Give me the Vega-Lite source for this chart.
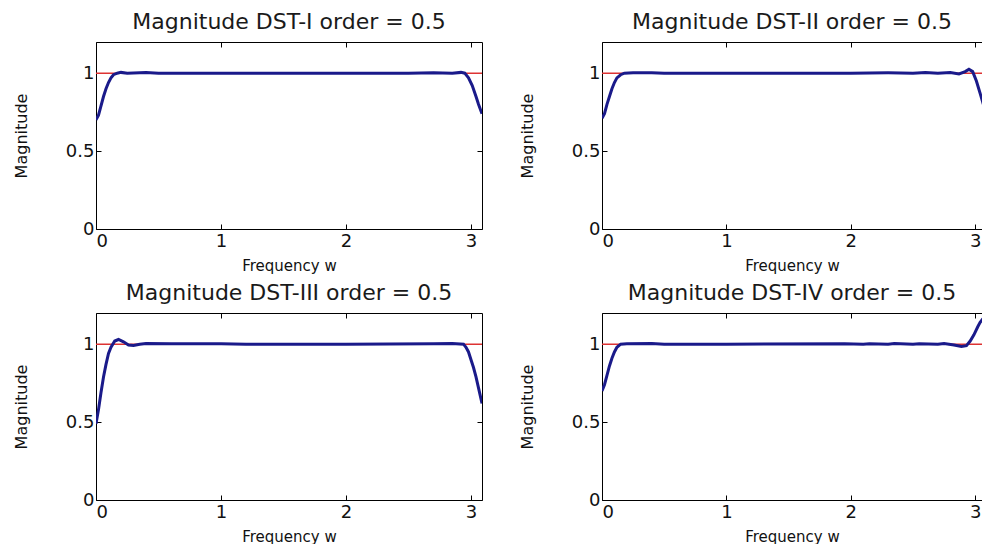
{
  "$schema": "https://vega.github.io/schema/vega-lite/v6.json",
  "background": "white",
  "padding": {"left": 12, "top": 10, "right": 0, "bottom": 0},
  "columns": 2,
  "spacing": {"row": 84, "column": 120},
  "bounds": "flush",
  "config": {
    "view": {"stroke": null},
    "title": {"font": "DejaVu Sans", "fontSize": 22, "fontWeight": "normal", "color": "#1a1a1a", "offset": 8, "anchor": "middle"},
    "axis": {
      "grid": false,
      "domainColor": "#000000",
      "domainWidth": 1,
      "tickColor": "#000000",
      "tickSize": -5,
      "tickWidth": 1,
      "labelFont": "DejaVu Sans",
      "labelFontSize": 18,
      "labelColor": "#111111",
      "labelPadding": 8,
      "titleFont": "DejaVu Sans",
      "titleFontSize": 15,
      "titleFontWeight": "normal",
      "titleColor": "#111111"
    },
    "axisBottom": {"titleY": 29, "titleBaseline": "top"},
    "axisLeft": {"titleX": -75, "titleY": 93.5, "titleBaseline": "middle", "labelPadding": 7, "titleFontSize": 16}
  },
  "datasets": {
    "d": [
      {"p": "I", "s": "ideal", "w": 0, "m": 1},
      {"p": "I", "s": "ideal", "w": 3.1416, "m": 1},
      {"p": "I", "s": "dst", "w": 0, "m": 0.70},
      {"p": "I", "s": "dst", "w": 0.02, "m": 0.73},
      {"p": "I", "s": "dst", "w": 0.04, "m": 0.79},
      {"p": "I", "s": "dst", "w": 0.06, "m": 0.85},
      {"p": "I", "s": "dst", "w": 0.08, "m": 0.90},
      {"p": "I", "s": "dst", "w": 0.10, "m": 0.94},
      {"p": "I", "s": "dst", "w": 0.12, "m": 0.97},
      {"p": "I", "s": "dst", "w": 0.14, "m": 0.99},
      {"p": "I", "s": "dst", "w": 0.17, "m": 1.0},
      {"p": "I", "s": "dst", "w": 0.2, "m": 1.005},
      {"p": "I", "s": "dst", "w": 0.25, "m": 1.0},
      {"p": "I", "s": "dst", "w": 0.4, "m": 1.004},
      {"p": "I", "s": "dst", "w": 0.5, "m": 1.0},
      {"p": "I", "s": "dst", "w": 1.0, "m": 1.0},
      {"p": "I", "s": "dst", "w": 1.5, "m": 1.0},
      {"p": "I", "s": "dst", "w": 2.0, "m": 1.0},
      {"p": "I", "s": "dst", "w": 2.5, "m": 1.0},
      {"p": "I", "s": "dst", "w": 2.7, "m": 1.003},
      {"p": "I", "s": "dst", "w": 2.85, "m": 1.0},
      {"p": "I", "s": "dst", "w": 2.92, "m": 1.005},
      {"p": "I", "s": "dst", "w": 2.95, "m": 1.0},
      {"p": "I", "s": "dst", "w": 2.98, "m": 0.97},
      {"p": "I", "s": "dst", "w": 3.01, "m": 0.92},
      {"p": "I", "s": "dst", "w": 3.04, "m": 0.85},
      {"p": "I", "s": "dst", "w": 3.06, "m": 0.80},
      {"p": "I", "s": "dst", "w": 3.088, "m": 0.74},
      {"p": "II", "s": "ideal", "w": 0, "m": 1},
      {"p": "II", "s": "ideal", "w": 3.1416, "m": 1},
      {"p": "II", "s": "dst", "w": 0, "m": 0.71},
      {"p": "II", "s": "dst", "w": 0.02, "m": 0.74},
      {"p": "II", "s": "dst", "w": 0.04, "m": 0.80},
      {"p": "II", "s": "dst", "w": 0.06, "m": 0.85},
      {"p": "II", "s": "dst", "w": 0.08, "m": 0.90},
      {"p": "II", "s": "dst", "w": 0.10, "m": 0.94},
      {"p": "II", "s": "dst", "w": 0.12, "m": 0.97},
      {"p": "II", "s": "dst", "w": 0.15, "m": 0.99},
      {"p": "II", "s": "dst", "w": 0.18, "m": 1.0},
      {"p": "II", "s": "dst", "w": 0.25, "m": 1.002},
      {"p": "II", "s": "dst", "w": 0.4, "m": 1.003},
      {"p": "II", "s": "dst", "w": 0.5, "m": 1.0},
      {"p": "II", "s": "dst", "w": 1.0, "m": 1.0},
      {"p": "II", "s": "dst", "w": 2.0, "m": 1.0},
      {"p": "II", "s": "dst", "w": 2.3, "m": 1.002},
      {"p": "II", "s": "dst", "w": 2.5, "m": 1.0},
      {"p": "II", "s": "dst", "w": 2.6, "m": 1.004},
      {"p": "II", "s": "dst", "w": 2.7, "m": 1.0},
      {"p": "II", "s": "dst", "w": 2.8, "m": 1.004},
      {"p": "II", "s": "dst", "w": 2.87, "m": 0.995},
      {"p": "II", "s": "dst", "w": 2.92, "m": 1.01},
      {"p": "II", "s": "dst", "w": 2.95, "m": 1.025},
      {"p": "II", "s": "dst", "w": 2.98, "m": 1.01},
      {"p": "II", "s": "dst", "w": 3.01, "m": 0.95},
      {"p": "II", "s": "dst", "w": 3.04, "m": 0.87},
      {"p": "II", "s": "dst", "w": 3.088, "m": 0.74},
      {"p": "III", "s": "ideal", "w": 0, "m": 1},
      {"p": "III", "s": "ideal", "w": 3.1416, "m": 1},
      {"p": "III", "s": "dst", "w": 0, "m": 0.49},
      {"p": "III", "s": "dst", "w": 0.02, "m": 0.58},
      {"p": "III", "s": "dst", "w": 0.04, "m": 0.69},
      {"p": "III", "s": "dst", "w": 0.06, "m": 0.79},
      {"p": "III", "s": "dst", "w": 0.08, "m": 0.87},
      {"p": "III", "s": "dst", "w": 0.10, "m": 0.94},
      {"p": "III", "s": "dst", "w": 0.12, "m": 0.98},
      {"p": "III", "s": "dst", "w": 0.15, "m": 1.02},
      {"p": "III", "s": "dst", "w": 0.18, "m": 1.03},
      {"p": "III", "s": "dst", "w": 0.22, "m": 1.015},
      {"p": "III", "s": "dst", "w": 0.26, "m": 0.995},
      {"p": "III", "s": "dst", "w": 0.3, "m": 0.992},
      {"p": "III", "s": "dst", "w": 0.35, "m": 1.0},
      {"p": "III", "s": "dst", "w": 0.4, "m": 1.005},
      {"p": "III", "s": "dst", "w": 0.6, "m": 1.003},
      {"p": "III", "s": "dst", "w": 0.8, "m": 1.003},
      {"p": "III", "s": "dst", "w": 1.0, "m": 1.003},
      {"p": "III", "s": "dst", "w": 1.2, "m": 1.0},
      {"p": "III", "s": "dst", "w": 2.0, "m": 1.0},
      {"p": "III", "s": "dst", "w": 2.7, "m": 1.003},
      {"p": "III", "s": "dst", "w": 2.85, "m": 1.004},
      {"p": "III", "s": "dst", "w": 2.94, "m": 1.0},
      {"p": "III", "s": "dst", "w": 2.96, "m": 0.98},
      {"p": "III", "s": "dst", "w": 2.98, "m": 0.95},
      {"p": "III", "s": "dst", "w": 3.0, "m": 0.90},
      {"p": "III", "s": "dst", "w": 3.02, "m": 0.85},
      {"p": "III", "s": "dst", "w": 3.04, "m": 0.79},
      {"p": "III", "s": "dst", "w": 3.06, "m": 0.72},
      {"p": "III", "s": "dst", "w": 3.088, "m": 0.62},
      {"p": "IV", "s": "ideal", "w": 0, "m": 1},
      {"p": "IV", "s": "ideal", "w": 3.1416, "m": 1},
      {"p": "IV", "s": "dst", "w": 0, "m": 0.70},
      {"p": "IV", "s": "dst", "w": 0.02, "m": 0.74},
      {"p": "IV", "s": "dst", "w": 0.04, "m": 0.80},
      {"p": "IV", "s": "dst", "w": 0.06, "m": 0.86},
      {"p": "IV", "s": "dst", "w": 0.08, "m": 0.91},
      {"p": "IV", "s": "dst", "w": 0.10, "m": 0.95},
      {"p": "IV", "s": "dst", "w": 0.12, "m": 0.98},
      {"p": "IV", "s": "dst", "w": 0.15, "m": 1.0},
      {"p": "IV", "s": "dst", "w": 0.2, "m": 1.003},
      {"p": "IV", "s": "dst", "w": 0.4, "m": 1.004},
      {"p": "IV", "s": "dst", "w": 0.5, "m": 1.0},
      {"p": "IV", "s": "dst", "w": 1.0, "m": 1.0},
      {"p": "IV", "s": "dst", "w": 1.95, "m": 1.003},
      {"p": "IV", "s": "dst", "w": 2.1, "m": 1.0},
      {"p": "IV", "s": "dst", "w": 2.15, "m": 1.003},
      {"p": "IV", "s": "dst", "w": 2.3, "m": 1.0},
      {"p": "IV", "s": "dst", "w": 2.35, "m": 1.004},
      {"p": "IV", "s": "dst", "w": 2.5, "m": 1.0},
      {"p": "IV", "s": "dst", "w": 2.55, "m": 1.003},
      {"p": "IV", "s": "dst", "w": 2.7, "m": 1.0},
      {"p": "IV", "s": "dst", "w": 2.75, "m": 1.004},
      {"p": "IV", "s": "dst", "w": 2.83, "m": 0.995},
      {"p": "IV", "s": "dst", "w": 2.89, "m": 0.985},
      {"p": "IV", "s": "dst", "w": 2.93, "m": 0.99},
      {"p": "IV", "s": "dst", "w": 2.96, "m": 1.02},
      {"p": "IV", "s": "dst", "w": 2.99, "m": 1.06},
      {"p": "IV", "s": "dst", "w": 3.02, "m": 1.11},
      {"p": "IV", "s": "dst", "w": 3.04, "m": 1.14},
      {"p": "IV", "s": "dst", "w": 3.088, "m": 1.19}
    ]
  },
  "concat": [
    {
      "width": 386, "height": 187,
      "title": "Magnitude DST-I order = 0.5",
      "data": {"name": "d"},
      "transform": [{"filter": "datum.p == 'I'"}],
      "layer": [
        {
          "transform": [{"filter": "datum.s == 'ideal'"}],
          "mark": {"type": "line", "color": "#dd3333", "strokeWidth": 1.5, "clip": true},
          "encoding": {
            "x": {"field": "w", "type": "quantitative", "scale": {"domain": [0, 3.088], "nice": false, "zero": false}, "axis": {"orient": "bottom", "title": "Frequency w", "values": [0, 1, 2, 3], "format": "~g"}},
            "y": {"field": "m", "type": "quantitative", "scale": {"domain": [0, 1.2], "nice": false}, "axis": {"orient": "left", "title": "Magnitude", "values": [0, 0.5, 1], "format": "~g"}}
          }
        },
        {
          "transform": [{"filter": "datum.s == 'dst'"}],
          "mark": {"type": "line", "color": "#1a1a8a", "strokeWidth": 3, "clip": true},
          "encoding": {
            "x": {"field": "w", "type": "quantitative", "scale": {"domain": [0, 3.088], "nice": false, "zero": false}, "axis": {"orient": "top", "title": null, "labels": false, "values": [0, 1, 2, 3]}},
            "y": {"field": "m", "type": "quantitative", "scale": {"domain": [0, 1.2], "nice": false}, "axis": {"orient": "right", "title": null, "labels": false, "values": [0, 0.5, 1]}}
          }
        }
      ],
      "resolve": {"axis": {"x": "independent", "y": "independent"}}
    },
    {
      "width": 380, "height": 187,
      "title": "Magnitude DST-II order = 0.5",
      "data": {"name": "d"},
      "transform": [{"filter": "datum.p == 'II'"}],
      "layer": [
        {
          "transform": [{"filter": "datum.s == 'ideal'"}],
          "mark": {"type": "line", "color": "#dd3333", "strokeWidth": 1.5, "clip": true},
          "encoding": {
            "x": {"field": "w", "type": "quantitative", "scale": {"domain": [0, 3.055], "nice": false, "zero": false}, "axis": {"orient": "bottom", "title": "Frequency w", "values": [0, 1, 2, 3], "format": "~g"}},
            "y": {"field": "m", "type": "quantitative", "scale": {"domain": [0, 1.2], "nice": false}, "axis": {"orient": "left", "title": "Magnitude", "values": [0, 0.5, 1], "format": "~g"}}
          }
        },
        {
          "transform": [{"filter": "datum.s == 'dst'"}],
          "mark": {"type": "line", "color": "#1a1a8a", "strokeWidth": 3, "clip": true},
          "encoding": {
            "x": {"field": "w", "type": "quantitative", "scale": {"domain": [0, 3.055], "nice": false, "zero": false}, "axis": {"orient": "top", "title": null, "labels": false, "values": [0, 1, 2, 3]}},
            "y": {"field": "m", "type": "quantitative", "scale": {"domain": [0, 1.2], "nice": false}, "axis": null}
          }
        }
      ],
      "resolve": {"axis": {"x": "independent", "y": "independent"}}
    },
    {
      "width": 386, "height": 187,
      "title": "Magnitude DST-III order = 0.5",
      "data": {"name": "d"},
      "transform": [{"filter": "datum.p == 'III'"}],
      "layer": [
        {
          "transform": [{"filter": "datum.s == 'ideal'"}],
          "mark": {"type": "line", "color": "#dd3333", "strokeWidth": 1.5, "clip": true},
          "encoding": {
            "x": {"field": "w", "type": "quantitative", "scale": {"domain": [0, 3.088], "nice": false, "zero": false}, "axis": {"orient": "bottom", "title": "Frequency w", "values": [0, 1, 2, 3], "format": "~g"}},
            "y": {"field": "m", "type": "quantitative", "scale": {"domain": [0, 1.2], "nice": false}, "axis": {"orient": "left", "title": "Magnitude", "values": [0, 0.5, 1], "format": "~g"}}
          }
        },
        {
          "transform": [{"filter": "datum.s == 'dst'"}],
          "mark": {"type": "line", "color": "#1a1a8a", "strokeWidth": 3, "clip": true},
          "encoding": {
            "x": {"field": "w", "type": "quantitative", "scale": {"domain": [0, 3.088], "nice": false, "zero": false}, "axis": {"orient": "top", "title": null, "labels": false, "values": [0, 1, 2, 3]}},
            "y": {"field": "m", "type": "quantitative", "scale": {"domain": [0, 1.2], "nice": false}, "axis": {"orient": "right", "title": null, "labels": false, "values": [0, 0.5, 1]}}
          }
        }
      ],
      "resolve": {"axis": {"x": "independent", "y": "independent"}}
    },
    {
      "width": 380, "height": 187,
      "title": "Magnitude DST-IV order = 0.5",
      "data": {"name": "d"},
      "transform": [{"filter": "datum.p == 'IV'"}],
      "layer": [
        {
          "transform": [{"filter": "datum.s == 'ideal'"}],
          "mark": {"type": "line", "color": "#dd3333", "strokeWidth": 1.5, "clip": true},
          "encoding": {
            "x": {"field": "w", "type": "quantitative", "scale": {"domain": [0, 3.055], "nice": false, "zero": false}, "axis": {"orient": "bottom", "title": "Frequency w", "values": [0, 1, 2, 3], "format": "~g"}},
            "y": {"field": "m", "type": "quantitative", "scale": {"domain": [0, 1.2], "nice": false}, "axis": {"orient": "left", "title": "Magnitude", "values": [0, 0.5, 1], "format": "~g"}}
          }
        },
        {
          "transform": [{"filter": "datum.s == 'dst'"}],
          "mark": {"type": "line", "color": "#1a1a8a", "strokeWidth": 3, "clip": true},
          "encoding": {
            "x": {"field": "w", "type": "quantitative", "scale": {"domain": [0, 3.055], "nice": false, "zero": false}, "axis": {"orient": "top", "title": null, "labels": false, "values": [0, 1, 2, 3]}},
            "y": {"field": "m", "type": "quantitative", "scale": {"domain": [0, 1.2], "nice": false}, "axis": null}
          }
        }
      ],
      "resolve": {"axis": {"x": "independent", "y": "independent"}}
    }
  ]
}
